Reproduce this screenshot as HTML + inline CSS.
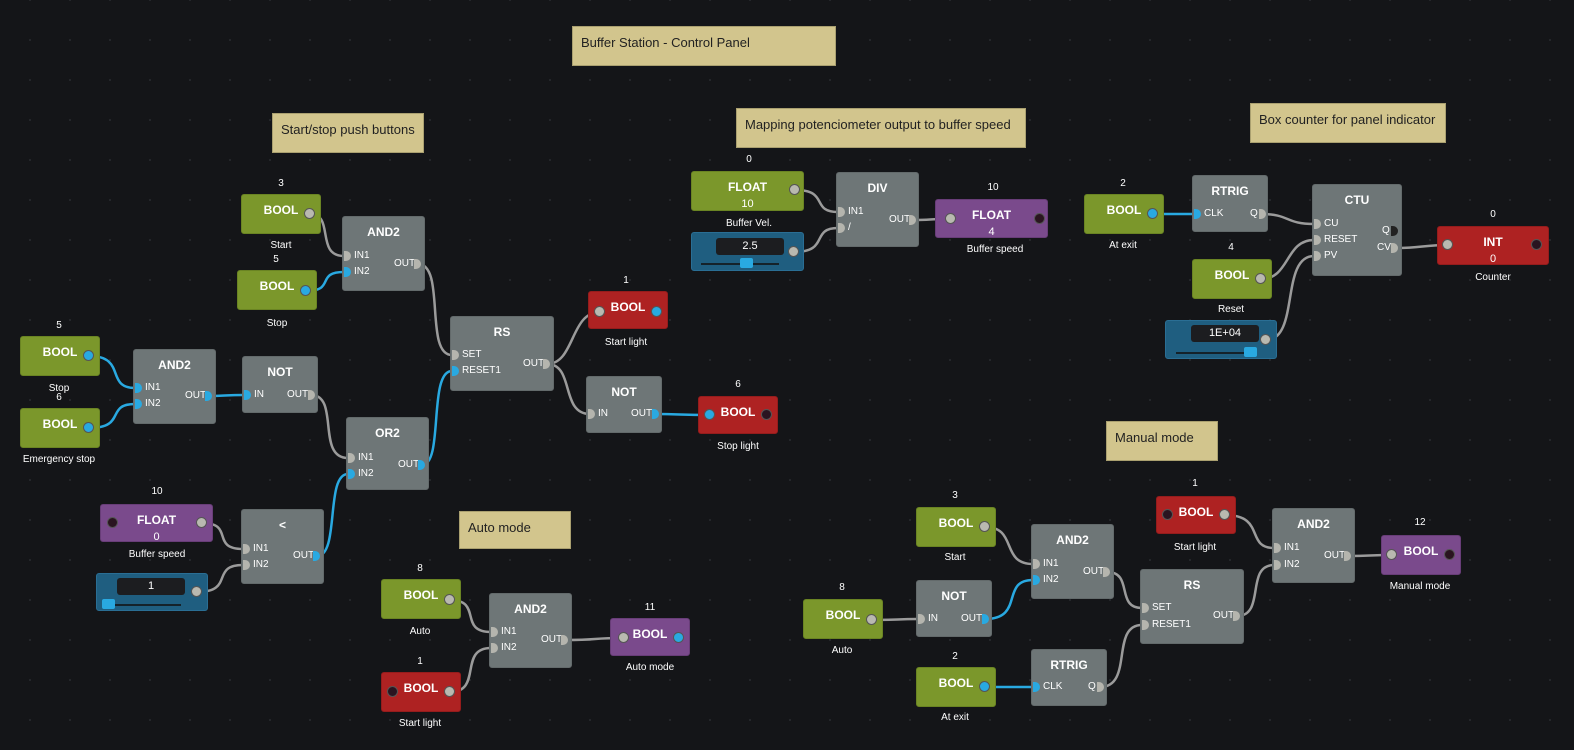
<!DOCTYPE html>
<html><head><meta charset="utf-8"><style>
body{margin:0;width:1574px;height:750px;background:#141518;overflow:hidden;font-family:"Liberation Sans",sans-serif;position:relative;
background-image:radial-gradient(#25272b 1px,transparent 1.2px);background-size:40px 40px;background-position:10px 20px}
div,span,i{position:absolute;box-sizing:border-box}
.n{border-radius:3px;color:#fff;font-weight:bold;font-size:12px;text-align:center;padding-top:8px}
.g{background:#7b972b;border:1px solid #6a8423}.gr{background:#6e7677;border:1px solid #636a6b}
.r{background:#ae2222;border:1px solid #951c1c}.p{background:#7a4a8c;border:1px solid #683d78}
.b{background:#1f5e80;border:1px solid #2a6e94}
.note{background:#d2c58d;border:1px solid #aaa070;color:#222;font-size:13px;padding:8px 0 0 8px}
.l{transform:translateX(-50%);font-size:10px;color:#fff;white-space:nowrap;line-height:14px}
.t{font-size:10px;color:#fff;line-height:14px;white-space:nowrap}
.pi{width:7px;height:10px;border-radius:0 5px 5px 0;background:#b5b5ae}
.pb{background:#29a9e1}.pd{background:#222}
.c{width:11px;height:11px;border-radius:50%;background:#b9b9b0;border:1px solid #555}
.cb{background:#29a9e1}.cd{background:#2a1420}
.v{font-size:11px;font-weight:normal;display:block;margin-top:4px}
.box{background:#1c1d20;border-radius:3px;color:#fff;font-size:11px;text-align:center;line-height:16px;height:17px}
.tr{height:2px;background:#15222a}.th{width:13px;height:10px;background:#29a9e1;border-radius:2px}
</style></head><body>
<svg width="1574" height="750" style="position:absolute;left:0;top:0" fill="none" stroke-width="2.5">
<g stroke="#9b9b9b">
<path d="M310 214 C335 214 315 256 344 256"/>
<path d="M418 264 C446 264 424 355 452 355"/>
<path d="M311 395 C340 395 316 458 348 458"/>
<path d="M202 523 C235 523 210 549 243 549"/>
<path d="M197 592 C235 592 210 565 243 565"/>
<path d="M547 364 C575 364 570 312 600 312"/>
<path d="M547 364 C575 364 560 414 590 414"/>
<path d="M450 600 C483 600 458 632 491 632"/>
<path d="M450 692 C483 692 458 648 491 648"/>
<path d="M566 640 C600 640 590 638 624 638"/>
<path d="M795 190 C830 190 810 212 838 212"/>
<path d="M794 252 C830 252 810 228 838 228"/>
<path d="M912 220 C935 220 925 219 951 219"/>
<path d="M1261 214 C1290 214 1285 224 1314 224"/>
<path d="M1261 279 C1290 279 1285 240 1314 240"/>
<path d="M1266 340 C1300 340 1280 256 1314 256"/>
<path d="M1398 248 C1420 248 1425 245 1448 245"/>
<path d="M985 527 C1018 527 1000 564 1033 564"/>
<path d="M872 620 C900 620 895 619 918 619"/>
<path d="M1100 687 C1134 687 1110 625 1142 625"/>
<path d="M1107 572 C1134 572 1115 608 1142 608"/>
<path d="M1237 616 C1266 616 1245 565 1274 565"/>
<path d="M1225 515 C1266 515 1245 548 1274 548"/>
<path d="M1349 556 C1370 556 1370 555 1392 555"/>
</g>
<g stroke="#29a9e1">
<path d="M306 291 C336 291 315 272 344 272"/>
<path d="M89 356 C127 356 105 388 135 388"/>
<path d="M89 428 C127 428 105 404 135 404"/>
<path d="M209 396 C225 396 225 395 244 395"/>
<path d="M422 465 C444 465 428 371 452 371"/>
<path d="M317 556 C340 556 325 474 348 474"/>
<path d="M655 414 C680 414 680 415 709 415"/>
<path d="M1153 214 C1170 214 1175 214 1194 214"/>
<path d="M985 619 C1025 619 1000 580 1033 580"/>
<path d="M985 687 C1005 687 1010 687 1033 687"/>
</g></svg>

<div class="note" style="left:572px;top:26px;width:264px;height:40px">Buffer Station - Control Panel</div>
<div class="note" style="left:272px;top:113px;width:152px;height:40px">Start/stop push buttons</div>
<div class="note" style="left:736px;top:108px;width:290px;height:40px">Mapping potenciometer output to buffer speed</div>
<div class="note" style="left:1250px;top:103px;width:196px;height:40px">Box counter for panel indicator</div>
<div class="note" style="left:1106px;top:421px;width:112px;height:40px">Manual mode</div>
<div class="note" style="left:459px;top:511px;width:112px;height:38px">Auto mode</div>

<!-- Start/stop -->
<div class="n g" style="left:241px;top:194px;width:80px;height:40px">BOOL</div><span class="c" style="left:304px;top:208px"></span>
<span class="l" style="left:281px;top:177px">3</span><span class="l" style="left:281px;top:239px">Start</span>
<div class="n g" style="left:237px;top:270px;width:80px;height:40px">BOOL</div><span class="c cb" style="left:300px;top:285px"></span>
<span class="l" style="left:276px;top:253px">5</span><span class="l" style="left:277px;top:317px">Stop</span>
<div class="n gr" style="left:342px;top:216px;width:83px;height:75px">AND2</div>
<i class="pi" style="left:344px;top:251px"></i><span class="t" style="left:354px;top:249px">IN1</span>
<i class="pi pb" style="left:344px;top:267px"></i><span class="t" style="left:354px;top:265px">IN2</span>
<span class="t" style="left:394px;top:257px">OUT</span><i class="pi" style="left:414px;top:259px"></i>

<div class="n g" style="left:20px;top:336px;width:80px;height:40px">BOOL</div><span class="c cb" style="left:83px;top:350px"></span>
<span class="l" style="left:59px;top:319px">5</span><span class="l" style="left:59px;top:382px">Stop</span>
<div class="n g" style="left:20px;top:408px;width:80px;height:40px">BOOL</div><span class="c cb" style="left:83px;top:422px"></span>
<span class="l" style="left:59px;top:391px">6</span><span class="l" style="left:59px;top:453px">Emergency stop</span>
<div class="n gr" style="left:133px;top:349px;width:83px;height:75px">AND2</div>
<i class="pi pb" style="left:135px;top:383px"></i><span class="t" style="left:145px;top:381px">IN1</span>
<i class="pi pb" style="left:135px;top:399px"></i><span class="t" style="left:145px;top:397px">IN2</span>
<span class="t" style="left:185px;top:389px">OUT</span><i class="pi pb" style="left:205px;top:391px"></i>
<div class="n gr" style="left:242px;top:356px;width:76px;height:57px">NOT</div>
<i class="pi pb" style="left:244px;top:390px"></i><span class="t" style="left:254px;top:388px">IN</span>
<span class="t" style="left:287px;top:388px">OUT</span><i class="pi" style="left:308px;top:390px"></i>
<div class="n gr" style="left:346px;top:417px;width:83px;height:73px">OR2</div>
<i class="pi" style="left:348px;top:453px"></i><span class="t" style="left:358px;top:451px">IN1</span>
<i class="pi pb" style="left:348px;top:469px"></i><span class="t" style="left:358px;top:467px">IN2</span>
<span class="t" style="left:398px;top:458px">OUT</span><i class="pi pb" style="left:418px;top:460px"></i>
<div class="n gr" style="left:450px;top:316px;width:104px;height:75px">RS</div>
<i class="pi" style="left:452px;top:350px"></i><span class="t" style="left:462px;top:348px">SET</span>
<i class="pi pb" style="left:452px;top:366px"></i><span class="t" style="left:462px;top:364px">RESET1</span>
<span class="t" style="left:523px;top:357px">OUT</span><i class="pi" style="left:543px;top:359px"></i>
<div class="n r" style="left:588px;top:291px;width:80px;height:38px">BOOL</div>
<span class="c" style="left:594px;top:306px"></span><span class="c cb" style="left:651px;top:306px"></span>
<span class="l" style="left:626px;top:274px">1</span><span class="l" style="left:626px;top:336px">Start light</span>
<div class="n gr" style="left:586px;top:376px;width:76px;height:57px">NOT</div>
<i class="pi" style="left:588px;top:409px"></i><span class="t" style="left:598px;top:407px">IN</span>
<span class="t" style="left:631px;top:407px">OUT</span><i class="pi pb" style="left:652px;top:409px"></i>
<div class="n r" style="left:698px;top:396px;width:80px;height:38px">BOOL</div>
<span class="c cb" style="left:704px;top:409px"></span><span class="c cd" style="left:761px;top:409px"></span>
<span class="l" style="left:738px;top:378px">6</span><span class="l" style="left:738px;top:440px">Stop light</span>

<div class="n p" style="left:100px;top:504px;width:113px;height:38px">FLOAT<span class="v" style="position:static">0</span></div>
<span class="c cd" style="left:107px;top:517px"></span><span class="c" style="left:196px;top:517px"></span>
<span class="l" style="left:157px;top:485px">10</span><span class="l" style="left:157px;top:548px">Buffer speed</span>
<div class="n b" style="left:96px;top:573px;width:112px;height:38px"></div>
<div class="box" style="left:117px;top:578px;width:68px">1</div><div class="tr" style="left:103px;top:604px;width:78px"></div><div class="th" style="left:102px;top:599px"></div>
<span class="c" style="left:191px;top:586px"></span>
<div class="n gr" style="left:241px;top:509px;width:83px;height:75px">&lt;</div>
<i class="pi" style="left:243px;top:544px"></i><span class="t" style="left:253px;top:542px">IN1</span>
<i class="pi" style="left:243px;top:560px"></i><span class="t" style="left:253px;top:558px">IN2</span>
<span class="t" style="left:293px;top:549px">OUT</span><i class="pi pb" style="left:313px;top:551px"></i>

<!-- Auto -->
<div class="n g" style="left:381px;top:579px;width:80px;height:40px">BOOL</div><span class="c" style="left:444px;top:594px"></span>
<span class="l" style="left:420px;top:562px">8</span><span class="l" style="left:420px;top:625px">Auto</span>
<div class="n r" style="left:381px;top:672px;width:80px;height:40px">BOOL</div>
<span class="c cd" style="left:387px;top:686px"></span><span class="c" style="left:444px;top:686px"></span>
<span class="l" style="left:420px;top:655px">1</span><span class="l" style="left:420px;top:717px">Start light</span>
<div class="n gr" style="left:489px;top:593px;width:83px;height:75px">AND2</div>
<i class="pi" style="left:491px;top:627px"></i><span class="t" style="left:501px;top:625px">IN1</span>
<i class="pi" style="left:491px;top:643px"></i><span class="t" style="left:501px;top:641px">IN2</span>
<span class="t" style="left:541px;top:633px">OUT</span><i class="pi" style="left:561px;top:635px"></i>
<div class="n p" style="left:610px;top:618px;width:80px;height:38px">BOOL</div>
<span class="c" style="left:618px;top:632px"></span><span class="c cb" style="left:673px;top:632px"></span>
<span class="l" style="left:650px;top:601px">11</span><span class="l" style="left:650px;top:661px">Auto mode</span>

<!-- Mapping -->
<div class="n g" style="left:691px;top:171px;width:113px;height:40px">FLOAT<span class="v" style="position:static">10</span></div>
<span class="c" style="left:789px;top:184px"></span>
<span class="l" style="left:749px;top:153px">0</span><span class="l" style="left:749px;top:217px">Buffer Vel.</span>
<div class="n b" style="left:691px;top:232px;width:113px;height:39px"></div>
<div class="box" style="left:716px;top:238px;width:68px">2.5</div><div class="tr" style="left:701px;top:263px;width:78px"></div><div class="th" style="left:740px;top:258px"></div>
<span class="c" style="left:788px;top:246px"></span>
<div class="n gr" style="left:836px;top:172px;width:83px;height:75px">DIV</div>
<i class="pi" style="left:838px;top:207px"></i><span class="t" style="left:848px;top:205px">IN1</span>
<i class="pi" style="left:838px;top:223px"></i><span class="t" style="left:848px;top:221px">/</span>
<span class="t" style="left:889px;top:213px">OUT</span><i class="pi" style="left:909px;top:215px"></i>
<div class="n p" style="left:935px;top:199px;width:113px;height:39px">FLOAT<span class="v" style="position:static">4</span></div>
<span class="c" style="left:945px;top:213px"></span><span class="c cd" style="left:1034px;top:213px"></span>
<span class="l" style="left:993px;top:181px">10</span><span class="l" style="left:995px;top:243px">Buffer speed</span>

<!-- Counter -->
<div class="n g" style="left:1084px;top:194px;width:80px;height:40px">BOOL</div><span class="c cb" style="left:1147px;top:208px"></span>
<span class="l" style="left:1123px;top:177px">2</span><span class="l" style="left:1123px;top:239px">At exit</span>
<div class="n gr" style="left:1192px;top:175px;width:76px;height:57px">RTRIG</div>
<i class="pi pb" style="left:1194px;top:209px"></i><span class="t" style="left:1204px;top:207px">CLK</span>
<span class="t" style="left:1250px;top:207px">Q</span><i class="pi" style="left:1259px;top:209px"></i>
<div class="n gr" style="left:1312px;top:184px;width:90px;height:92px">CTU</div>
<i class="pi" style="left:1314px;top:219px"></i><span class="t" style="left:1324px;top:217px">CU</span>
<i class="pi" style="left:1314px;top:235px"></i><span class="t" style="left:1324px;top:233px">RESET</span>
<i class="pi" style="left:1314px;top:251px"></i><span class="t" style="left:1324px;top:249px">PV</span>
<span class="t" style="left:1382px;top:224px">Q</span><i class="pi pd" style="left:1391px;top:226px"></i>
<span class="t" style="left:1377px;top:241px">CV</span><i class="pi" style="left:1391px;top:243px"></i>
<div class="n g" style="left:1192px;top:259px;width:80px;height:40px">BOOL</div><span class="c" style="left:1255px;top:273px"></span>
<span class="l" style="left:1231px;top:241px">4</span><span class="l" style="left:1231px;top:303px">Reset</span>
<div class="n b" style="left:1165px;top:320px;width:112px;height:39px"></div>
<div class="box" style="left:1191px;top:325px;width:68px">1E+04</div><div class="tr" style="left:1176px;top:352px;width:78px"></div><div class="th" style="left:1244px;top:347px"></div>
<span class="c" style="left:1260px;top:334px"></span>
<div class="n r" style="left:1437px;top:226px;width:112px;height:39px">INT<span class="v" style="position:static">0</span></div>
<span class="c" style="left:1442px;top:239px"></span><span class="c cd" style="left:1531px;top:239px"></span>
<span class="l" style="left:1493px;top:208px">0</span><span class="l" style="left:1493px;top:271px">Counter</span>

<!-- Manual -->
<div class="n g" style="left:916px;top:507px;width:80px;height:40px">BOOL</div><span class="c" style="left:979px;top:521px"></span>
<span class="l" style="left:955px;top:489px">3</span><span class="l" style="left:955px;top:551px">Start</span>
<div class="n gr" style="left:1031px;top:524px;width:83px;height:75px">AND2</div>
<i class="pi" style="left:1033px;top:559px"></i><span class="t" style="left:1043px;top:557px">IN1</span>
<i class="pi pb" style="left:1033px;top:575px"></i><span class="t" style="left:1043px;top:573px">IN2</span>
<span class="t" style="left:1083px;top:565px">OUT</span><i class="pi" style="left:1103px;top:567px"></i>
<div class="n g" style="left:803px;top:599px;width:80px;height:40px">BOOL</div><span class="c" style="left:866px;top:614px"></span>
<span class="l" style="left:842px;top:581px">8</span><span class="l" style="left:842px;top:644px">Auto</span>
<div class="n gr" style="left:916px;top:580px;width:76px;height:57px">NOT</div>
<i class="pi" style="left:918px;top:614px"></i><span class="t" style="left:928px;top:612px">IN</span>
<span class="t" style="left:961px;top:612px">OUT</span><i class="pi pb" style="left:982px;top:614px"></i>
<div class="n g" style="left:916px;top:667px;width:80px;height:40px">BOOL</div><span class="c cb" style="left:979px;top:681px"></span>
<span class="l" style="left:955px;top:650px">2</span><span class="l" style="left:955px;top:711px">At exit</span>
<div class="n gr" style="left:1031px;top:649px;width:76px;height:57px">RTRIG</div>
<i class="pi pb" style="left:1033px;top:682px"></i><span class="t" style="left:1043px;top:680px">CLK</span>
<span class="t" style="left:1088px;top:680px">Q</span><i class="pi" style="left:1097px;top:682px"></i>
<div class="n gr" style="left:1140px;top:569px;width:104px;height:75px">RS</div>
<i class="pi" style="left:1142px;top:603px"></i><span class="t" style="left:1152px;top:601px">SET</span>
<i class="pi" style="left:1142px;top:620px"></i><span class="t" style="left:1152px;top:618px">RESET1</span>
<span class="t" style="left:1213px;top:609px">OUT</span><i class="pi" style="left:1233px;top:611px"></i>
<div class="n r" style="left:1156px;top:496px;width:80px;height:38px">BOOL</div>
<span class="c cd" style="left:1162px;top:509px"></span><span class="c" style="left:1219px;top:509px"></span>
<span class="l" style="left:1195px;top:477px">1</span><span class="l" style="left:1195px;top:541px">Start light</span>
<div class="n gr" style="left:1272px;top:508px;width:83px;height:75px">AND2</div>
<i class="pi" style="left:1274px;top:543px"></i><span class="t" style="left:1284px;top:541px">IN1</span>
<i class="pi" style="left:1274px;top:560px"></i><span class="t" style="left:1284px;top:558px">IN2</span>
<span class="t" style="left:1324px;top:549px">OUT</span><i class="pi" style="left:1344px;top:551px"></i>
<div class="n p" style="left:1381px;top:535px;width:80px;height:40px">BOOL</div>
<span class="c" style="left:1386px;top:549px"></span><span class="c cd" style="left:1444px;top:549px"></span>
<span class="l" style="left:1420px;top:516px">12</span><span class="l" style="left:1420px;top:580px">Manual mode</span>
</body></html>
